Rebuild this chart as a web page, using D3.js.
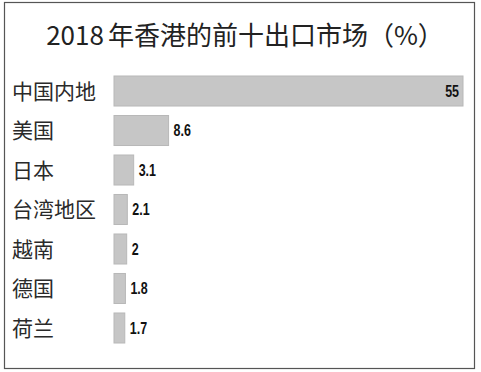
<!DOCTYPE html>
<html>
<head>
<meta charset="utf-8">
<script src="https://cdn.jsdelivr.net/npm/d3@7"></script>
<style>
  body { margin: 0; background: #fff; }
  svg { display: block; }
</style>
</head>
<body>
<div id="chart"></div>
<script>
// data
var markets = ["中国内地", "美国", "日本", "台湾地区", "越南", "德国", "荷兰"];
var shares = [55, 8.6, 3.1, 2.1, 2, 1.8, 1.7];
var shareLabels = ["55", "8.6", "3.1", "2.1", "2", "1.8", "1.7"];

var W = 481, H = 372;
var svg = d3.select("#chart").append("svg").attr("width", W).attr("height", H);

// frame
svg.append("rect")
  .attr("x", 4.5).attr("y", 2.5)
  .attr("width", 470).attr("height", 366)
  .attr("fill", "#fff").attr("stroke", "#555").attr("stroke-width", 1.2);

// title
var title = svg.append("text")
  .attr("x", 245).attr("y", 45)
  .attr("text-anchor", "middle")
  .attr("font-family", "'Noto Sans CJK SC', sans-serif")
  .attr("font-size", 26)
  .attr("fill", "#222");
title.append("tspan").text("2018");
title.append("tspan").attr("dx", 4).text("年香港的前十出口市场（%）");

var x = d3.scaleLinear().domain([0, 55]).range([114, 463]);
var y = d3.scaleBand().domain(markets).range([76, 343]).paddingInner(0.24).paddingOuter(0);

var rows = svg.selectAll("g.row").data(markets).enter().append("g").attr("class", "row");

rows.append("rect")
  .attr("x", x(0))
  .attr("y", d => y(d))
  .attr("width", (d, i) => x(shares[i]) - x(0))
  .attr("height", y.bandwidth())
  .attr("fill", "#c6c6c6")
  .attr("stroke", "#b8b8b8")
  .attr("stroke-width", 1);

rows.append("text")
  .attr("x", 12)
  .attr("y", d => y(d) + y.bandwidth() / 2)
  .attr("dy", "0.36em")
  .attr("font-family", "'Noto Sans CJK SC', sans-serif")
  .attr("font-size", 21)
  .attr("fill", "#2a2a2a")
  .text(d => d);

// narrow bold value labels
rows.append("text")
  .attr("transform", (d, i) => {
    var px = i === 0 ? x(shares[i]) - 4 : x(shares[i]) + 5;
    return "translate(" + px + "," + (y(d) + y.bandwidth() / 2) + ") scale(0.78,1)";
  })
  .attr("dy", "0.36em")
  .attr("text-anchor", (d, i) => i === 0 ? "end" : "start")
  .attr("font-family", "'Liberation Sans', Arial, sans-serif")
  .attr("font-weight", "bold")
  .attr("font-size", 16)
  .attr("fill", "#111")
  .text((d, i) => shareLabels[i]);
</script>
</body>
</html>
